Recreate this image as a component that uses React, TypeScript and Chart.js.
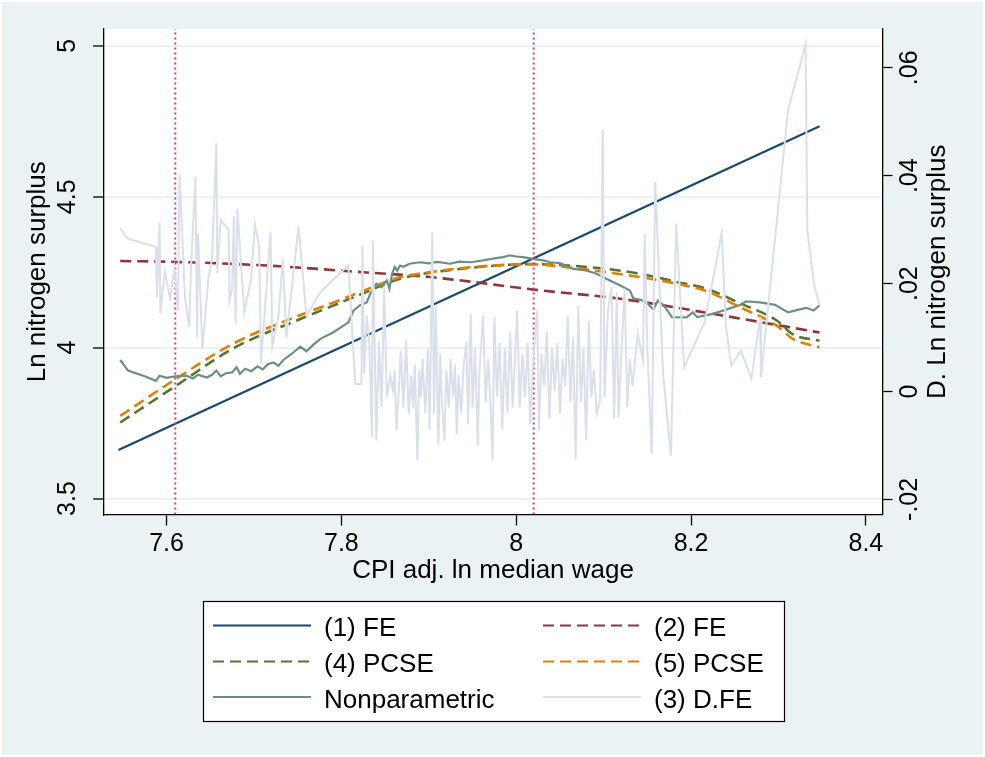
import React, { useEffect, useRef } from "react";
import { Chart, registerables } from "chart.js";

Chart.register(...registerables);

const FONT = "'Liberation Sans', Arial, Helvetica, sans-serif";

// ---- axes ----
const xTicks = [7.6, 7.8, 8.0, 8.2, 8.4];
const xTickLabels = ["7.6", "7.8", "8", "8.2", "8.4"];
const leftTicks = [3.5, 4, 4.5, 5];
const leftTickLabels = ["3.5", "4", "4.5", "5"];
const rightTicks = [-0.02, 0, 0.02, 0.04, 0.06];
const rightTickLabels = ["-.02", "0", ".02", ".04", ".06"];
const xTitle = "CPI adj. ln median wage";
const leftTitle = "Ln nitrogen surplus";
const rightTitle = "D. Ln nitrogen surplus";

// ---- series ----
const fe1X = [7.545, 8.347];
const fe1Y = [3.661, 4.734];

const fe2X = [7.547, 7.612, 7.715, 7.829, 7.901, 8.027, 8.119, 8.233, 8.347];
const fe2Y = [4.287, 4.284, 4.272, 4.249, 4.234, 4.19, 4.162, 4.108, 4.05];

const pcse4X = [7.547, 7.61, 7.676, 7.753, 7.787, 7.829, 7.863, 7.901, 7.939, 7.978, 8.019, 8.06, 8.103, 8.141, 8.18, 8.218, 8.256, 8.298, 8.316, 8.347];
const pcse4Y = [3.752, 3.872, 3.997, 4.095, 4.135, 4.185, 4.225, 4.248, 4.262, 4.272, 4.277, 4.272, 4.261, 4.245, 4.22, 4.195, 4.147, 4.09, 4.045, 4.023];

const pcse5X = [7.547, 7.61, 7.676, 7.753, 7.787, 7.829, 7.863, 7.901, 7.939, 7.978, 8.019, 8.06, 8.103, 8.141, 8.18, 8.218, 8.256, 8.298, 8.316, 8.347];
const pcse5Y = [3.774, 3.895, 4.013, 4.108, 4.145, 4.193, 4.23, 4.25, 4.264, 4.273, 4.276, 4.266, 4.25, 4.234, 4.214, 4.187, 4.134, 4.073, 4.03, 4.001];

const npX = [7.547, 7.556, 7.575, 7.588, 7.592, 7.6, 7.61, 7.623, 7.63, 7.636, 7.646, 7.652, 7.657, 7.662, 7.668, 7.675, 7.68, 7.684, 7.69, 7.697, 7.704, 7.71, 7.716, 7.722, 7.728, 7.734, 7.743, 7.753, 7.76, 7.768, 7.776, 7.791, 7.808, 7.814, 7.821, 7.829, 7.833, 7.84, 7.846, 7.852, 7.855, 7.858, 7.861, 7.864, 7.867, 7.871, 7.878, 7.89, 7.9, 7.91, 7.924, 7.935, 7.948, 7.962, 7.975, 7.985, 7.993, 8.0, 8.008, 8.019, 8.031, 8.039, 8.05, 8.065, 8.08, 8.092, 8.103, 8.119, 8.13, 8.134, 8.143, 8.149, 8.157, 8.162, 8.169, 8.178, 8.195, 8.202, 8.207, 8.225, 8.24, 8.256, 8.263, 8.279, 8.296, 8.311, 8.322, 8.332, 8.34, 8.347];
const npY = [3.959, 3.924, 3.905, 3.89, 3.907, 3.9, 3.905, 3.907, 3.898, 3.91, 3.901, 3.91, 3.924, 3.905, 3.915, 3.918, 3.935, 3.913, 3.93, 3.922, 3.938, 3.928, 3.945, 3.951, 3.94, 3.96, 3.979, 4.003, 3.988, 4.01, 4.029, 4.051, 4.084, 4.123, 4.14, 4.15, 4.178, 4.212, 4.2, 4.223, 4.195, 4.245, 4.267, 4.255, 4.272, 4.268, 4.278, 4.283, 4.279, 4.284, 4.278, 4.285, 4.283, 4.289, 4.296, 4.3, 4.306, 4.302, 4.3, 4.294, 4.289, 4.283, 4.28, 4.261, 4.256, 4.245, 4.228, 4.206, 4.189, 4.163, 4.158, 4.15, 4.126, 4.156, 4.14, 4.101, 4.1, 4.117, 4.101, 4.112, 4.126, 4.141, 4.153, 4.15, 4.142, 4.117, 4.125, 4.132, 4.123, 4.14];

const dfeX = [7.547, 7.555, 7.588, 7.589, 7.592, 7.593, 7.598, 7.604, 7.609, 7.613, 7.615, 7.621, 7.626, 7.628, 7.633, 7.635, 7.636, 7.641, 7.648, 7.652, 7.657, 7.658, 7.662, 7.671, 7.672, 7.675, 7.677, 7.679, 7.681, 7.685, 7.689, 7.697, 7.701, 7.706, 7.708, 7.719, 7.721, 7.728, 7.733, 7.737, 7.751, 7.76, 7.776, 7.808,
  7.816, 7.823, 7.824, 7.826, 7.829, 7.832, 7.835, 7.836, 7.84, 7.843, 7.846, 7.849, 7.852, 7.856, 7.859, 7.861, 7.863, 7.866, 7.868, 7.871, 7.874, 7.877, 7.88, 7.882, 7.884, 7.887, 7.889, 7.891, 7.893, 7.896, 7.899, 7.901, 7.904, 7.906, 7.908, 7.911, 7.913, 7.915, 7.918, 7.92, 7.923, 7.925, 7.928, 7.93, 7.932, 7.934, 7.937, 7.94, 7.943, 7.945, 7.948, 7.95, 7.953, 7.956, 7.958, 7.962, 7.965, 7.968, 7.971, 7.973, 7.975, 7.978, 7.981, 7.984, 7.987, 7.99, 7.993, 7.996, 8.001, 8.004, 8.007, 8.01, 8.013, 8.016, 8.019, 8.024, 8.026, 8.029, 8.032, 8.035, 8.038, 8.041, 8.044, 8.047, 8.05, 8.053, 8.056, 8.059, 8.062, 8.065, 8.068, 8.071, 8.074, 8.077, 8.08, 8.083, 8.086, 8.089, 8.092, 8.096, 8.099, 8.101,
  8.105, 8.109, 8.112, 8.115, 8.117, 8.12, 8.124, 8.127, 8.13, 8.133, 8.139, 8.145, 8.147, 8.15, 8.155, 8.159, 8.168, 8.177, 8.183, 8.192, 8.215, 8.225, 8.235, 8.24, 8.246, 8.257, 8.269, 8.279, 8.28, 8.311, 8.331, 8.333, 8.341, 8.347];
const dfeY = [0.0303, 0.0284, 0.0268, 0.0175, 0.0314, 0.0145, 0.0222, 0.0173, 0.0228, 0.015, 0.0404, 0.0175, 0.0119, 0.023, 0.0398, 0.01, 0.0293, 0.008, 0.0212, 0.0245, 0.046, 0.0219, 0.0318, 0.0299, 0.0169, 0.019, 0.0325, 0.0126, 0.0339, 0.024, 0.0147, 0.0212, 0.031, 0.0268, 0.0052, 0.0296, 0.0085, 0.014, 0.0246, 0.01, 0.0306, 0.0141, 0.0184, 0.0234,
  0.0014, 0.0014, 0.0271, 0.0033, 0.0141, 0.009, -0.0085, 0.028, -0.0091, 0.0092, -0.0029, 0.0194, -0.0011, 0.003, 0.0002, 0.004, -0.0072, 0.001, 0.0076, -0.003, 0.0095, -0.0041, 0.003, -0.003, 0.005, -0.0128, 0.004, -0.001, 0.006, -0.004, 0.008, -0.007, 0.0296, -0.0041, 0.0157, -0.01, 0.007, -0.002, -0.0091, 0.004, -0.003, 0.006, -0.001, 0.005, -0.0079, 0.003, -0.004, 0.005, 0.0092, -0.006, 0.0144, -0.003, 0.008, -0.01, 0.004, 0.0141, -0.002, 0.006, -0.004, -0.0128, 0.0138, -0.001, 0.009, -0.007, 0.008, -0.004, 0.011, -0.003, 0.015, -0.003, 0.007, -0.001, 0.009, -0.006, 0.005, 0.015, -0.0072, 0.007, 0.001, 0.011, -0.005, 0.008, 0.0, 0.009, -0.004, 0.006, 0.001, 0.014, -0.002, 0.01, -0.0125, 0.016, -0.002, 0.008, -0.009, 0.013, -0.001, 0.004, -0.004, -0.0017, 0.0486, -0.0011,
  0.015, 0.0194, -0.005, 0.0184, -0.0048, 0.006, 0.0191, -0.0029, 0.006, 0.001, 0.0107, 0.0058, 0.0293, 0.008, -0.0116, 0.0389, 0.0033, -0.0119, 0.0311, 0.0045, 0.0126, 0.0206, 0.0294, 0.0119, 0.0048, 0.0076, 0.0024, 0.0138, 0.0027, 0.0522, 0.0643, 0.0299, 0.0195, 0.016];

const refLineX = [7.61, 8.02];

// ---- plot ranges ----
const xMin = 7.528, xMax = 8.419;
const yMin = 3.447, yMax = 5.056;
const y1Min = -0.0228, y1Max = 0.0672;

const NAVY = "#1a476f", MAROON = "#90353b", GREEN = "#55752f", ORANGE = "#e37e00", TEAL = "#6e8e84", LIGHT = "#dadfeb", REF = "#dc3a72";
const BG = "#eaf2f3";

const zip = (xs: number[], ys: number[]) => xs.map((x, i) => ({ x, y: ys[i] }));
const labelFor = (ticks: number[], labels: string[]) => (v: any) => {
  const i = ticks.findIndex((t) => Math.abs(t - Number(v)) < 1e-9);
  return i >= 0 ? labels[i] : "";
};

const legendSpec = [
  { label: "(1) FE", color: NAVY, dash: [] as number[], col: 0, row: 0 },
  { label: "(2) FE", color: MAROON, dash: [11, 6], col: 1, row: 0 },
  { label: "(4) PCSE", color: GREEN, dash: [11, 6], col: 0, row: 1 },
  { label: "(5) PCSE", color: ORANGE, dash: [11, 6], col: 1, row: 1 },
  { label: "Nonparametric", color: TEAL, dash: [] as number[], col: 0, row: 2 },
  { label: "(3) D.FE", color: LIGHT, dash: [] as number[], col: 1, row: 2 },
];

const framePlugin = {
  id: "frame",
  beforeDraw(chart: any) {
    const { ctx, width, height, chartArea } = chart;
    ctx.save();
    ctx.fillStyle = BG;
    ctx.fillRect(0, 0, width, height);
    ctx.strokeStyle = "#ffffff";
    ctx.lineWidth = 2;
    ctx.strokeRect(1, 1, width - 2, height - 2);
    ctx.fillStyle = "#ffffff";
    ctx.fillRect(chartArea.left, chartArea.top, chartArea.right - chartArea.left, chartArea.bottom - chartArea.top);
    ctx.restore();
  },
  afterDraw(chart: any) {
    const { ctx, chartArea } = chart;
    ctx.save();
    // right axis title, reading bottom-to-top
    ctx.translate(938, (chartArea.top + chartArea.bottom) / 2);
    ctx.rotate(-Math.PI / 2);
    ctx.fillStyle = "#000";
    ctx.font = `26px ${FONT}`;
    ctx.textAlign = "center";
    ctx.textBaseline = "middle";
    ctx.fillText(rightTitle, 0, 0);
    ctx.restore();

    // legend box
    ctx.save();
    ctx.fillStyle = "#ffffff";
    ctx.fillRect(203.5, 601.5, 581, 120);
    ctx.strokeStyle = "#000";
    ctx.lineWidth = 1.2;
    ctx.strokeRect(203.5, 601.5, 581, 120);
    const colX = [213, 543];
    const rowY = [629, 665, 700.5];
    ctx.font = `26px ${FONT}`;
    ctx.textBaseline = "middle";
    ctx.textAlign = "left";
    legendSpec.forEach((it) => {
      const x0 = colX[it.col];
      const y = rowY[it.row];
      ctx.beginPath();
      ctx.setLineDash(it.dash);
      ctx.strokeStyle = it.color;
      ctx.lineWidth = 2.2;
      ctx.moveTo(x0, y - 3.5);
      ctx.lineTo(x0 + 98, y - 3.5);
      ctx.stroke();
      ctx.setLineDash([]);
      ctx.fillStyle = "#000";
      ctx.fillText(it.label, x0 + 111, y);
    });
    ctx.restore();
  },
};

export default function App() {
  const ref = useRef<HTMLCanvasElement>(null);
  useEffect(() => {
    if (!ref.current) return;
    const common = { pointRadius: 0, pointHoverRadius: 0, fill: false };
    const chart = new Chart(ref.current, {
      type: "line",
      data: {
        datasets: [
          { ...common, label: "(3) D.FE", data: zip(dfeX, dfeY), yAxisID: "y1", borderColor: LIGHT, borderWidth: 2, tension: 0 },
          { ...common, label: "ref1", data: zip([refLineX[0], refLineX[0]], [yMin, yMax]), yAxisID: "y", borderColor: REF, borderWidth: 2, borderDash: [2, 3] },
          { ...common, label: "ref2", data: zip([refLineX[1], refLineX[1]], [yMin, yMax]), yAxisID: "y", borderColor: REF, borderWidth: 2, borderDash: [2, 3] },
          { ...common, label: "Nonparametric", data: zip(npX, npY), yAxisID: "y", borderColor: TEAL, borderWidth: 2.2, tension: 0 },
          { ...common, label: "(5) PCSE", data: zip(pcse5X, pcse5Y), yAxisID: "y", borderColor: ORANGE, borderWidth: 2.6, borderDash: [11, 6], cubicInterpolationMode: "monotone" },
          { ...common, label: "(4) PCSE", data: zip(pcse4X, pcse4Y), yAxisID: "y", borderColor: GREEN, borderWidth: 2.6, borderDash: [11, 6], cubicInterpolationMode: "monotone" },
          { ...common, label: "(2) FE", data: zip(fe2X, fe2Y), yAxisID: "y", borderColor: MAROON, borderWidth: 2.6, borderDash: [11, 6], cubicInterpolationMode: "monotone" },
          { ...common, label: "(1) FE", data: zip(fe1X, fe1Y), yAxisID: "y", borderColor: NAVY, borderWidth: 2.2 },
        ] as any,
      },
      options: {
        responsive: false,
        animation: false,
        devicePixelRatio: 1,
        layout: { padding: { top: 29, left: 0, right: 0, bottom: 157.5 } },
        plugins: { legend: { display: false }, tooltip: { enabled: false } },
        scales: {
          x: {
            type: "linear",
            min: xMin,
            max: xMax,
            afterBuildTicks: (s: any) => { s.ticks = xTicks.map((v) => ({ value: v })); },
            afterFit: (s: any) => { s.height = 85; },
            ticks: { callback: labelFor(xTicks, xTickLabels), font: { size: 25, family: FONT }, color: "#000", padding: 4, maxRotation: 0, minRotation: 0, autoSkip: false },
            grid: { drawOnChartArea: false, drawTicks: true, tickLength: 11, tickColor: "#000", tickWidth: 1.3 },
            border: { display: true, color: "#000", width: 1.3 },
            title: { display: true, text: xTitle, font: { size: 26, family: FONT }, color: "#000", padding: { top: 0, bottom: 13 } },
          },
          y: {
            type: "linear",
            position: "left",
            min: yMin,
            max: yMax,
            afterBuildTicks: (s: any) => { s.ticks = leftTicks.map((v) => ({ value: v })); },
            afterFit: (s: any) => { s.width = 103.6; },
            ticks: { callback: labelFor(leftTicks, leftTickLabels), font: { size: 25, family: FONT }, color: "#000", padding: 7.5, minRotation: 90, maxRotation: 90, crossAlign: "center", autoSkip: false },
            grid: { color: BG, lineWidth: 2, drawTicks: true, tickLength: 10.5, tickColor: "#000", tickWidth: 1.3 },
            border: { display: true, color: "#000", width: 1.3 },
            title: { display: true, text: leftTitle, font: { size: 26, family: FONT }, color: "#000", padding: { top: 22.4, bottom: 0 } },
          },
          y1: {
            type: "linear",
            position: "right",
            min: y1Min,
            max: y1Max,
            afterBuildTicks: (s: any) => { s.ticks = rightTicks.map((v) => ({ value: v })); },
            afterFit: (s: any) => { s.width = 102.5; },
            ticks: { callback: labelFor(rightTicks, rightTickLabels), font: { size: 25, family: FONT }, color: "#000", padding: -3.5, minRotation: 90, maxRotation: 90, crossAlign: "center", autoSkip: false },
            grid: { drawOnChartArea: false, drawTicks: true, tickLength: 10, tickColor: "#000", tickWidth: 1.3 },
            border: { display: true, color: "#000", width: 1.3 },
            title: { display: false },
          },
        },
      } as any,
      plugins: [framePlugin],
    });
    return () => chart.destroy();
  }, []);
  return (
    <div style={{ position: "fixed", left: 0, top: 0, width: 985, height: 757 }}>
      <canvas ref={ref} width={985} height={757} style={{ display: "block", width: 985, height: 757 }} />
    </div>
  );
}
